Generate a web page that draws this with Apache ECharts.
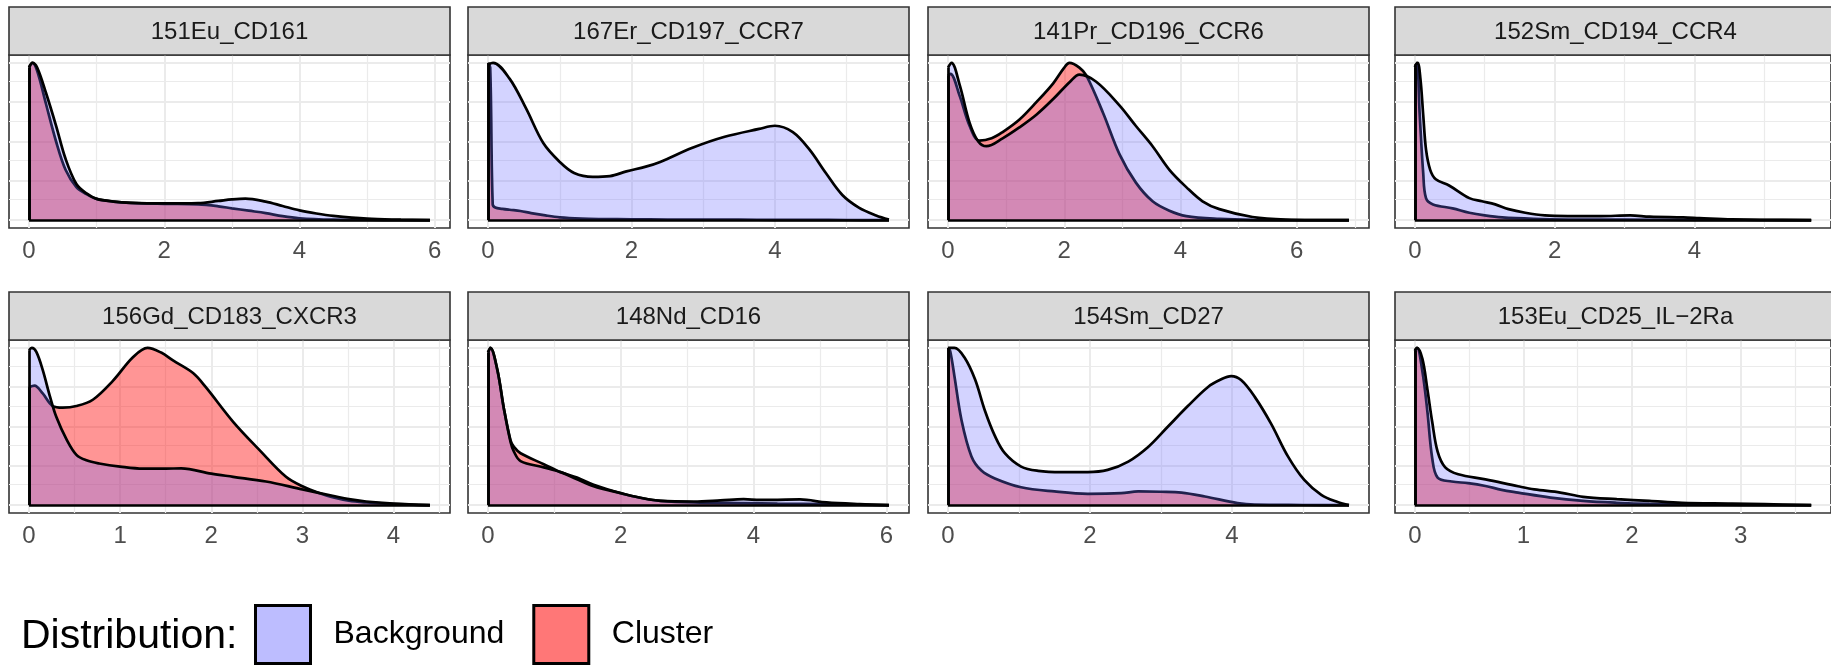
<!DOCTYPE html>
<html><head><meta charset="utf-8">
<script src="https://cdn.jsdelivr.net/npm/echarts@6/dist/echarts.min.js"></script>
<style>html,body{margin:0;padding:0;background:#fff;}#c{width:1831px;height:667px;}</style>
</head><body><div id="c"></div>
<script>
// ---------------- data ----------------
const panelTitles = ['151Eu_CD161', '167Er_CD197_CCR7', '141Pr_CD196_CCR6', '152Sm_CD194_CCR4',
  '156Gd_CD183_CXCR3', '148Nd_CD16', '154Sm_CD27', '153Eu_CD25_IL\u22122Ra'];
const xTicks = [[0,2,4,6],[0,2,4],[0,2,4,6],[0,2,4],[0,1,2,3,4],[0,2,4,6],[0,2,4],[0,1,2,3]];
const yBreaks = [0, 0.125, 0.25, 0.375, 0.5, 0.625, 0.75, 0.875, 1];
const legendNames = ['Background', 'Cluster'];
const legendTitle = 'Distribution:';

// scaled densities (max = 1 per group)
const p1BgX = [0, 0.05, 0.12, 0.25, 0.4, 0.54, 0.7, 0.85, 1.0, 1.25, 1.5, 2.0, 2.5, 2.8, 3.0, 3.2, 3.5, 3.75, 4.0, 4.25, 4.5, 5.0, 5.5, 5.93];
const p1BgY = [0.97, 1.0, 0.97, 0.81, 0.6, 0.39, 0.23, 0.17, 0.135, 0.118, 0.11, 0.106, 0.108, 0.122, 0.132, 0.137, 0.118, 0.09, 0.062, 0.042, 0.027, 0.009, 0.003, 0];
const p1ClX = [0, 0.05, 0.12, 0.25, 0.4, 0.54, 0.7, 0.85, 1.0, 1.25, 1.5, 2.0, 2.5, 2.8, 3.0, 3.25, 3.5, 3.75, 4.0, 4.5, 5.0, 5.5, 5.93];
const p1ClY = [0.97, 1.0, 0.95, 0.74, 0.5, 0.32, 0.21, 0.165, 0.135, 0.118, 0.11, 0.104, 0.1, 0.088, 0.075, 0.06, 0.045, 0.025, 0.012, 0.003, 0.001, 0, 0];

const p2BgX = [0, 0.07, 0.3, 0.53, 0.77, 1.0, 1.2, 1.46, 1.7, 1.93, 2.2, 2.4, 2.85, 3.3, 3.78, 4.0, 4.25, 4.48, 4.71, 4.94, 5.17, 5.41, 5.59];
const p2BgY = [0.99, 1.0, 0.9, 0.71, 0.49, 0.37, 0.3, 0.275, 0.28, 0.31, 0.34, 0.37, 0.46, 0.53, 0.58, 0.6, 0.56, 0.45, 0.3, 0.16, 0.08, 0.03, 0.004];
const p2ClX = [0, 0.03, 0.065, 0.1, 0.2, 0.3, 0.45, 0.6, 0.8, 1.0, 1.3, 1.6, 2.0, 2.5, 3.0, 3.5, 4.0, 4.5, 5.0, 5.59];
const p2ClY = [1.0, 0.97, 0.1, 0.08, 0.072, 0.066, 0.058, 0.045, 0.03, 0.018, 0.01, 0.007, 0.005, 0.004, 0.004, 0.003, 0.002, 0.002, 0.001, 0];

const p3BgX = [0, 0.06, 0.2, 0.37, 0.52, 0.66, 0.94, 1.23, 1.52, 1.81, 2.1, 2.26, 2.55, 2.95, 3.23, 3.52, 3.81, 4.1, 4.38, 4.67, 5.24, 5.81, 6.9];
const p3BgY = [0.97, 1.0, 0.86, 0.62, 0.5, 0.47, 0.52, 0.59, 0.67, 0.77, 0.88, 0.925, 0.88, 0.73, 0.6, 0.47, 0.32, 0.21, 0.12, 0.07, 0.02, 0.004, 0];
const p3ClX = [0, 0.04, 0.2, 0.37, 0.54, 0.75, 0.94, 1.23, 1.52, 1.81, 2.0, 2.09, 2.26, 2.38, 2.67, 2.95, 3.23, 3.52, 3.81, 4.1, 4.67, 5.24, 6.9];
const p3ClY = [0.92, 0.93, 0.79, 0.6, 0.505, 0.52, 0.56, 0.64, 0.75, 0.87, 0.97, 1.0, 0.97, 0.92, 0.68, 0.42, 0.24, 0.12, 0.06, 0.026, 0.008, 0.002, 0];

const p4BgX = [0, 0.04, 0.08, 0.12, 0.16, 0.22, 0.3, 0.49, 0.78, 0.96, 1.15, 1.34, 1.58, 1.86, 2.19, 2.66, 3.08, 3.36, 3.84, 4.07, 4.54, 5.0, 5.67];
const p4BgY = [0.98, 1.0, 0.9, 0.67, 0.45, 0.32, 0.26, 0.22, 0.14, 0.12, 0.1, 0.07, 0.047, 0.03, 0.026, 0.026, 0.03, 0.022, 0.017, 0.013, 0.005, 0.002, 0];
const p4ClX = [0, 0.03, 0.07, 0.12, 0.16, 0.26, 0.54, 0.78, 1.0, 1.25, 1.7, 2.2, 3.0, 4.0, 5.0, 5.67];
const p4ClY = [0.97, 1.0, 0.67, 0.3, 0.14, 0.1, 0.075, 0.047, 0.03, 0.017, 0.008, 0.004, 0.003, 0.002, 0.001, 0];

const p5BgX = [0, 0.03, 0.08, 0.15, 0.23, 0.3, 0.41, 0.52, 0.63, 0.77, 1.0, 1.25, 1.5, 1.67, 2.0, 2.24, 2.6, 3.0, 3.33, 3.51, 3.7, 4.0, 4.4];
const p5BgY = [0.985, 1.0, 0.975, 0.86, 0.69, 0.56, 0.42, 0.32, 0.285, 0.265, 0.245, 0.232, 0.232, 0.234, 0.2, 0.18, 0.15, 0.1, 0.06, 0.038, 0.023, 0.01, 0];
const p5ClX = [0, 0.06, 0.15, 0.26, 0.37, 0.52, 0.7, 0.92, 1.14, 1.3, 1.45, 1.58, 1.8, 1.94, 2.24, 2.53, 2.82, 3.0, 3.19, 3.33, 3.51, 3.7, 4.0, 4.4];
const p5ClY = [0.75, 0.76, 0.71, 0.63, 0.62, 0.63, 0.67, 0.79, 0.94, 1.0, 0.97, 0.92, 0.84, 0.75, 0.53, 0.35, 0.18, 0.12, 0.075, 0.05, 0.028, 0.017, 0.006, 0];

const p6BgX = [0, 0.035, 0.14, 0.24, 0.34, 0.39, 0.49, 0.84, 1.09, 1.34, 1.59, 2.0, 2.35, 2.6, 3.1, 3.5, 3.85, 4.1, 4.36, 4.7, 5.1, 5.6, 6.04];
const p6BgY = [0.97, 1.0, 0.86, 0.61, 0.4, 0.34, 0.28, 0.24, 0.21, 0.165, 0.12, 0.076, 0.042, 0.027, 0.023, 0.03, 0.038, 0.033, 0.034, 0.036, 0.017, 0.006, 0];
const p6ClX = [0, 0.035, 0.14, 0.24, 0.34, 0.39, 0.49, 0.84, 1.09, 1.34, 1.59, 2.0, 2.35, 2.6, 3.1, 3.85, 4.36, 5.1, 5.6, 6.04];
const p6ClY = [0.97, 1.0, 0.86, 0.61, 0.41, 0.37, 0.33, 0.26, 0.21, 0.175, 0.13, 0.076, 0.042, 0.027, 0.017, 0.013, 0.01, 0.006, 0.003, 0];

const p7BgX = [0, 0.09, 0.23, 0.38, 0.52, 0.66, 0.8, 1.03, 1.27, 1.6, 1.97, 2.25, 2.54, 2.82, 3.1, 3.38, 3.66, 3.85, 3.99, 4.13, 4.32, 4.55, 4.79, 5.02, 5.26, 5.49, 5.65];
const p7BgY = [1.0, 1.0, 0.94, 0.8, 0.6, 0.44, 0.33, 0.245, 0.218, 0.21, 0.21, 0.224, 0.277, 0.37, 0.5, 0.63, 0.75, 0.8, 0.82, 0.795, 0.69, 0.52, 0.31, 0.16, 0.066, 0.02, 0];
const p7ClX = [0, 0.03, 0.09, 0.19, 0.33, 0.47, 0.66, 1.03, 1.5, 1.97, 2.44, 2.68, 3.0, 3.29, 3.62, 4.08, 4.32, 5.0, 5.65];
const p7ClY = [1.0, 0.98, 0.82, 0.54, 0.31, 0.22, 0.17, 0.114, 0.087, 0.072, 0.076, 0.087, 0.085, 0.08, 0.055, 0.013, 0.003, 0.001, 0];

const p8BgX = [0, 0.02, 0.07, 0.115, 0.16, 0.21, 0.28, 0.4, 0.65, 0.95, 1.1, 1.34, 1.55, 1.86, 2.16, 2.46, 2.92, 3.22, 3.65];
const p8BgY = [0.985, 1.0, 0.93, 0.74, 0.53, 0.34, 0.24, 0.196, 0.164, 0.12, 0.1, 0.08, 0.053, 0.038, 0.027, 0.015, 0.01, 0.006, 0];
const p8ClX = [0, 0.02, 0.07, 0.115, 0.16, 0.21, 0.34, 0.49, 0.65, 0.8, 0.95, 1.25, 1.55, 1.86, 2.16, 2.6, 3.65];
const p8ClY = [0.98, 1.0, 0.85, 0.6, 0.3, 0.175, 0.15, 0.14, 0.122, 0.097, 0.08, 0.048, 0.027, 0.015, 0.008, 0.004, 0];

const panels = [
  [p1BgX, p1BgY, p1ClX, p1ClY], [p2BgX, p2BgY, p2ClX, p2ClY],
  [p3BgX, p3BgY, p3ClX, p3ClY], [p4BgX, p4BgY, p4ClX, p4ClY],
  [p5BgX, p5BgY, p5ClX, p5ClY], [p6BgX, p6BgY, p6ClX, p6ClY],
  [p7BgX, p7BgY, p7ClX, p7ClY], [p8BgX, p8BgY, p8ClX, p8ClY]
];

// ---------------- layout / style ----------------
const FONT = "'Liberation Sans', Arial, Helvetica, sans-serif";
const colLeft = [9, 468, 928, 1395];
const rowTop = [55, 340];
const plotW = 441, plotH = 173, stripH = 48;
const BG_FILL = 'rgba(110,110,255,0.30)';
const CL_FILL = 'rgba(255,10,10,0.43)';
const GRID_COLOR = '#EBEBEB';
const SMOOTH = 0.35;
const LW = 2.7;

const zip = (xs, ys) => xs.map((x, k) => [x, ys[k]]);

const grids = [], xAxes = [], yAxes = [], series = [], graphics = [];

panels.forEach((p, i) => {
  const [bx, by, cx, cy] = p;
  const r = Math.floor(i / 4), c = i % 4;
  const left = colLeft[c], top = rowTop[r];
  const xs = Math.min(bx[0], cx[0]);
  const xe = Math.max(bx[bx.length - 1], cx[cx.length - 1]);
  const span = xe - xs;
  const xmin = xs - 0.05 * span, xmax = xe + 0.05 * span;
  const ticks = xTicks[i];
  const step = ticks[1] - ticks[0];

  grids.push({ left: left, top: top, width: plotW, height: plotH, show: true,
    borderColor: '#333333', borderWidth: 1.6, backgroundColor: 'transparent' });
  xAxes.push({ gridIndex: i, type: 'value', min: xmin, max: xmax,
    axisLine: { show: false }, splitLine: { show: false },
    axisTick: { show: true, customValues: ticks, length: 7, lineStyle: { color: '#333333', width: 1.6 } },
    axisLabel: { show: true, customValues: ticks, margin: 11, fontSize: 24, color: '#4D4D4D', fontFamily: FONT } });
  yAxes.push({ gridIndex: i, type: 'value', min: -0.05, max: 1.05, show: false });

  // grid lines
  const gl = [];
  for (let v = Math.ceil(xmin / step) * step; v <= xmax + 1e-9; v += step) gl.push({ xAxis: v, lineStyle: { width: 2 } });
  for (let v = (Math.floor(xmin / step) + 0.5) * step; v <= xmax; v += step) if (v >= xmin) gl.push({ xAxis: v, lineStyle: { width: 1.2 } });
  yBreaks.forEach((v, k) => gl.push({ yAxis: v, lineStyle: { width: k % 2 === 0 ? 2 : 1.2 } }));
  series.push({ type: 'line', xAxisIndex: i, yAxisIndex: i, data: [[xs, 0]], showSymbol: false, silent: true,
    lineStyle: { opacity: 0 }, z: 0,
    markLine: { silent: true, symbol: 'none', z: 1, animation: false, label: { show: false },
      lineStyle: { color: GRID_COLOR, type: 'solid' }, data: gl } });

  const edge = (X, Y) => [
    [{ coord: [X[0], 0] }, { coord: [X[0], Y[0]] }]
  ];
  series.push({ type: 'line', name: 'Cluster', xAxisIndex: i, yAxisIndex: i, data: zip(cx, cy),
    smooth: SMOOTH, showSymbol: false, symbol: 'none', z: 2,
    itemStyle: { color: '#FF7777' },
    lineStyle: { color: '#000', width: LW }, areaStyle: { color: CL_FILL, opacity: 1 },
    markLine: { silent: true, symbol: 'none', z: 4, animation: false, label: { show: false },
      lineStyle: { color: '#000', width: LW, type: 'solid' }, data: edge(cx, cy) } });
  series.push({ type: 'line', name: 'Background', xAxisIndex: i, yAxisIndex: i, data: zip(bx, by),
    smooth: SMOOTH, showSymbol: false, symbol: 'none', z: 3,
    itemStyle: { color: '#BDBDFF' },
    lineStyle: { color: '#000', width: LW }, areaStyle: { color: BG_FILL, opacity: 1 },
    markLine: { silent: true, symbol: 'none', z: 4, animation: false, label: { show: false },
      lineStyle: { color: '#000', width: LW, type: 'solid' },
      data: edge(bx, by).concat([[{ coord: [xs, 0] }, { coord: [xe, 0] }]]) } });

  // strip
  graphics.push({ type: 'rect', shape: { x: left, y: top - stripH, width: plotW, height: stripH },
    style: { fill: '#D9D9D9', stroke: '#333333', lineWidth: 1.6 }, z: 10 });
  graphics.push({ type: 'text', x: left + plotW / 2, y: top - stripH / 2 + 1,
    style: { text: panelTitles[i], fontSize: 24, fontFamily: FONT, fill: '#1A1A1A', align: 'center', verticalAlign: 'middle' }, z: 11 });
});

graphics.push({ type: 'text', x: 21, y: 637,
  style: { text: legendTitle, fontSize: 41, fontFamily: FONT, fill: '#000', align: 'left', verticalAlign: 'middle' } });

const chart = echarts.init(document.getElementById('c'), null, { renderer: 'canvas' });
chart.setOption({
  animation: false,
  backgroundColor: '#ffffff',
  grid: grids, xAxis: xAxes, yAxis: yAxes, series: series,
  legend: { left: 249, top: 599, orient: 'horizontal', icon: 'rect', itemWidth: 55, itemHeight: 58, itemGap: 28,
    selectedMode: false,
    data: [
      { name: legendNames[0], itemStyle: { color: '#BDBDFF', borderColor: '#000', borderWidth: 3 } },
      { name: legendNames[1], itemStyle: { color: '#FF7777', borderColor: '#000', borderWidth: 3 } }
    ],
    textStyle: { fontSize: 32, color: '#000', fontFamily: FONT, padding: [0, 0, 0, 18] } },
  graphic: graphics
});
</script></body></html>
